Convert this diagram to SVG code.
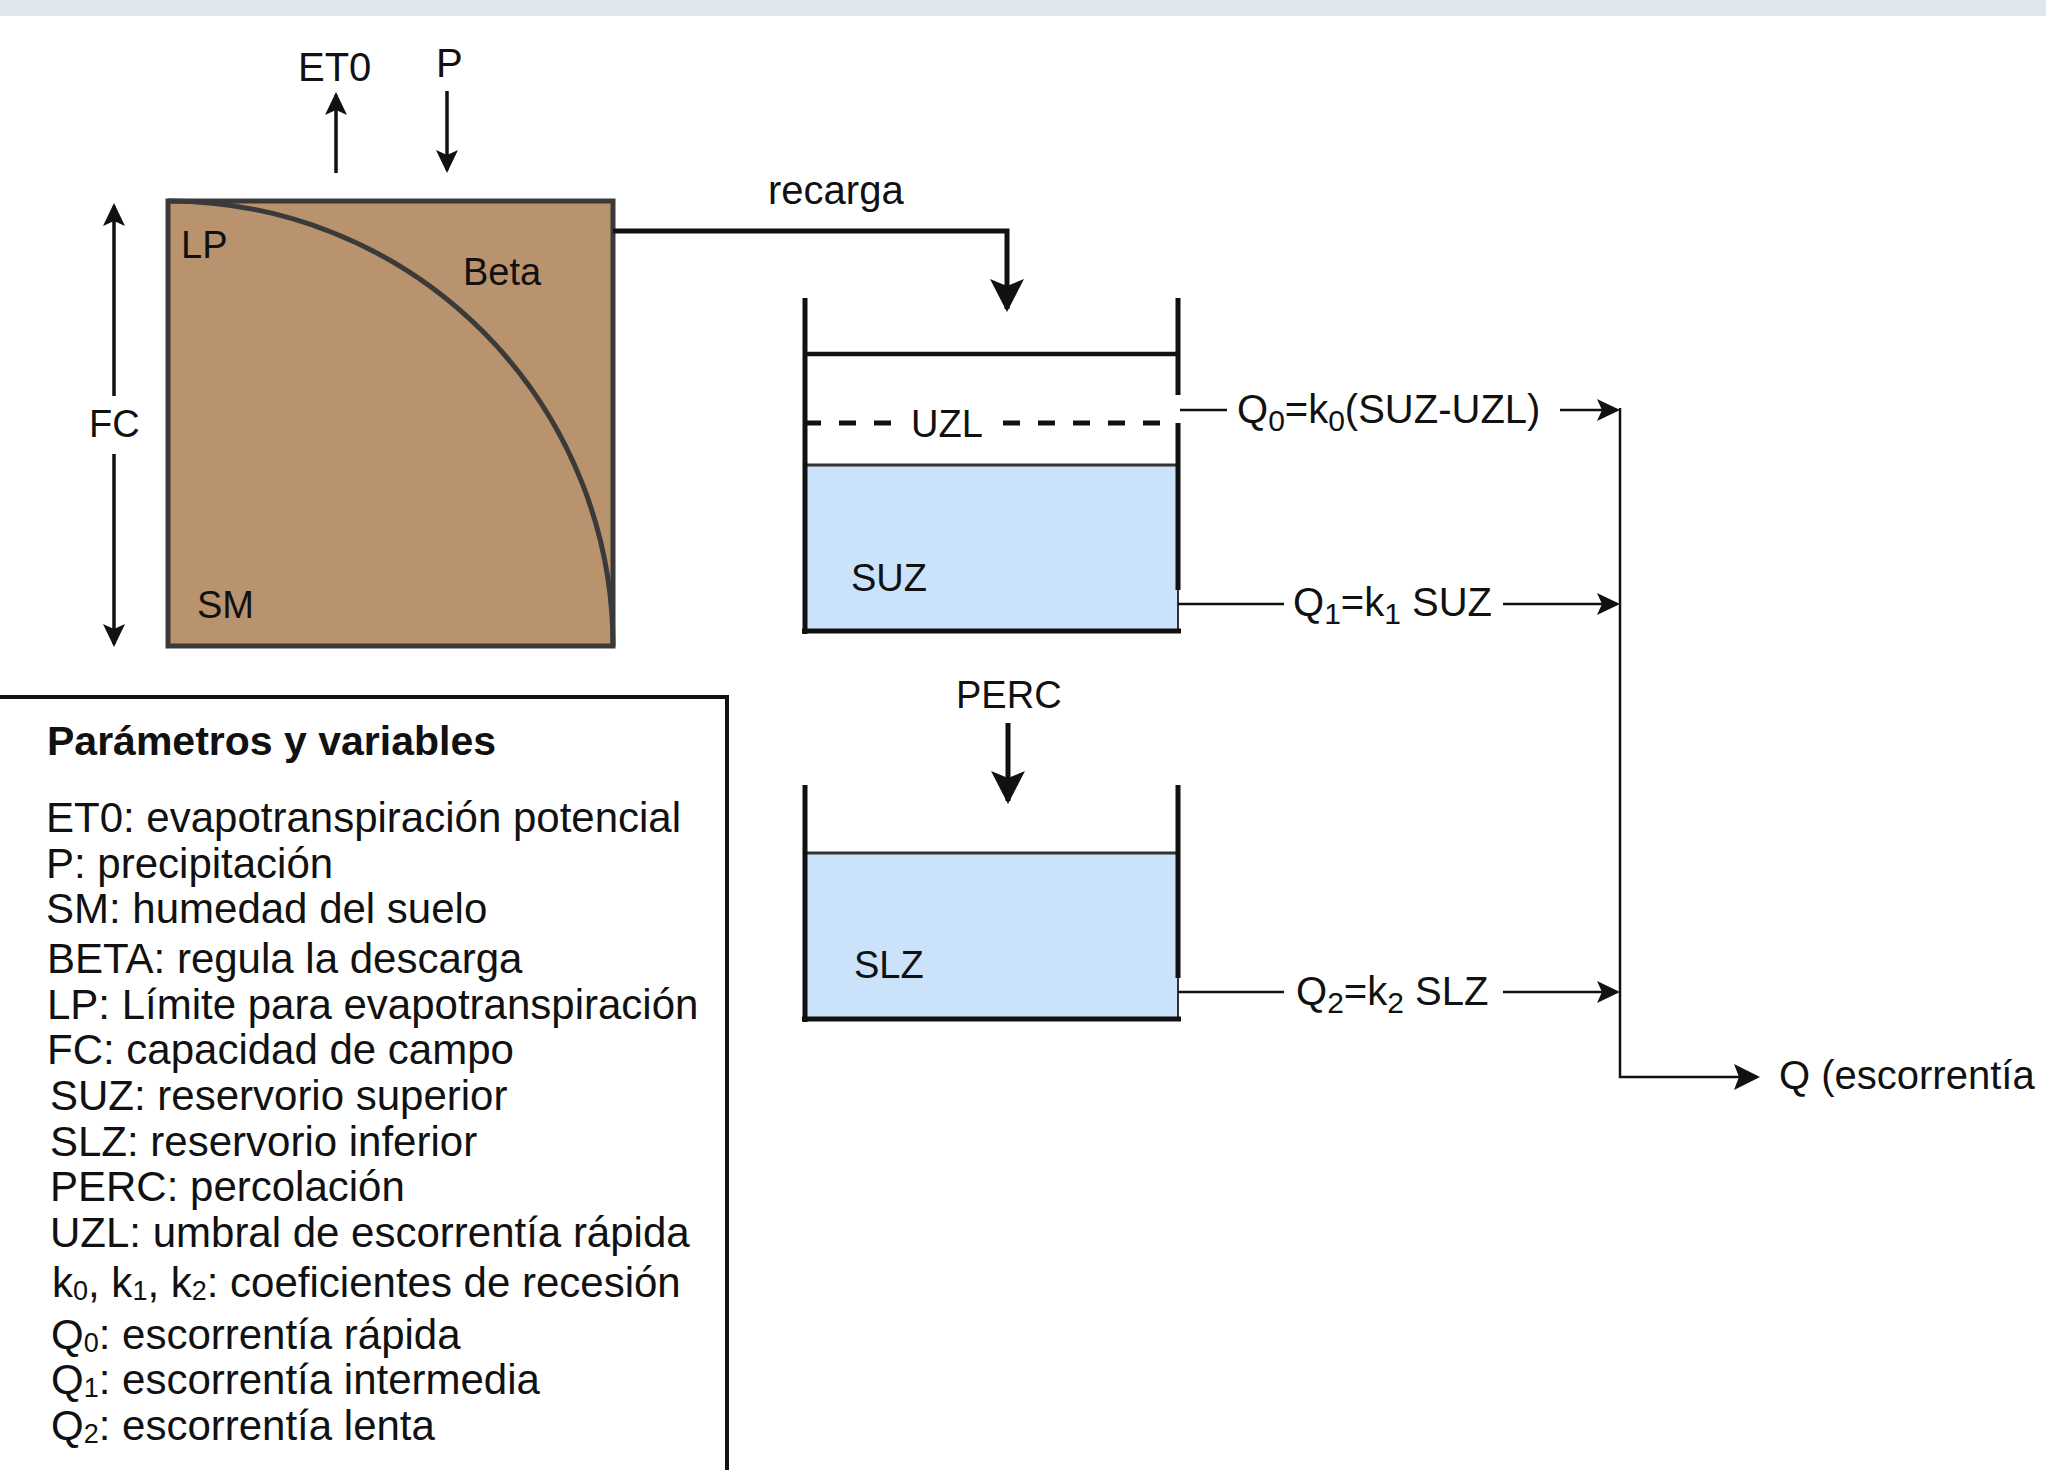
<svg xmlns="http://www.w3.org/2000/svg" width="2046" height="1470" viewBox="0 0 2046 1470">
<style>
text{font-family:"Liberation Sans",Arial,sans-serif;fill:#111}
.lbl{font-size:38px}
.lbl40{font-size:40px}
.leg{font-size:42px}
.legh{font-size:41px;font-weight:bold}
.sub{font-size:30px}
.lsub{font-size:27px}
.thin{fill:none;stroke:#111;stroke-width:2.5}
.mid{fill:none;stroke:#111;stroke-width:3.5}
.thick{fill:none;stroke:#111;stroke-width:5}
.wall{fill:none;stroke:#111;stroke-width:5}
.water{fill:#cbe3fa;stroke:none}
</style>
<defs>
<marker id="ah" markerUnits="userSpaceOnUse" markerWidth="24" markerHeight="22" viewBox="0 0 24 22" refX="20" refY="11" orient="auto-start-reverse"><path d="M0,0 L23,11 L0,22 L5,11 Z" fill="#111"/></marker>
<marker id="ahb" markerUnits="userSpaceOnUse" markerWidth="34" markerHeight="34" viewBox="0 0 34 34" refX="30" refY="17" orient="auto"><path d="M0,0 L33,17 L0,34 L7,17 Z" fill="#111"/></marker>
<marker id="ahq" markerUnits="userSpaceOnUse" markerWidth="27" markerHeight="26" viewBox="0 0 27 26" refX="23" refY="13" orient="auto"><path d="M0,0 L26,13 L0,26 L5,13 Z" fill="#111"/></marker>
</defs>
<rect x="0" y="0" width="2046" height="1470" fill="#ffffff"/>
<rect x="0" y="0" width="2046" height="16" fill="#dfe7ec"/>

<g id="soil">
<rect x="168" y="201" width="445" height="445" fill="#b9936e" stroke="#3a3a3a" stroke-width="5"/>
<path d="M168,201 A445,445 0 0 1 613,646" fill="none" stroke="#3a3a3a" stroke-width="5"/>
<text class="lbl" x="181" y="258">LP</text>
<text class="lbl" x="463" y="285">Beta</text>
<text class="lbl" x="197" y="618">SM</text>
</g>

<g id="suz-tank">
<rect class="water" x="806" y="465" width="372" height="166"/>
<line x1="806" y1="465" x2="1178" y2="465" stroke="#333" stroke-width="3"/>
<line x1="1178" y1="588" x2="1178" y2="631" stroke="#333" stroke-width="2"/>
<line class="wall" x1="805" y1="298" x2="805" y2="634"/>
<line class="wall" x1="1178" y1="298" x2="1178" y2="395"/>
<line class="wall" x1="1178" y1="423" x2="1178" y2="590"/>
<line class="wall" x1="802" y1="631" x2="1181" y2="631"/>
<line x1="806" y1="354" x2="1178" y2="354" stroke="#111" stroke-width="4.5"/>
<path d="M804,423 H892 M1003,423 H1162" fill="none" stroke="#111" stroke-width="5" stroke-dasharray="17 18"/>
<text class="lbl" x="911" y="437">UZL</text>
<text class="lbl" x="851" y="591">SUZ</text>
</g>

<g id="slz-tank">
<rect class="water" x="806" y="853" width="372" height="166"/>
<line x1="806" y1="853" x2="1178" y2="853" stroke="#333" stroke-width="3"/>
<line x1="1178" y1="976" x2="1178" y2="1019" stroke="#333" stroke-width="2"/>
<line class="wall" x1="805" y1="785" x2="805" y2="1022"/>
<line class="wall" x1="1178" y1="785" x2="1178" y2="978"/>
<line class="wall" x1="802" y1="1019" x2="1181" y2="1019"/>
<text class="lbl" x="854" y="978">SLZ</text>
</g>

<g id="connectors">
<line class="mid" x1="336" y1="173" x2="336" y2="95" marker-end="url(#ah)"/>
<line class="mid" x1="447" y1="91" x2="447" y2="170" marker-end="url(#ah)"/>
<line class="mid" x1="114" y1="206" x2="114" y2="396" marker-start="url(#ah)"/>
<line class="mid" x1="114" y1="454" x2="114" y2="644" marker-end="url(#ah)"/>
<path class="thick" d="M613,231 H1007 V309" marker-end="url(#ahb)"/>
<line class="thick" x1="1008" y1="723" x2="1008" y2="801" marker-end="url(#ahb)"/>
<line class="thin" x1="1180" y1="410" x2="1227" y2="410"/>
<line class="thin" x1="1560" y1="410" x2="1617" y2="410" marker-end="url(#ah)"/>
<line class="thin" x1="1178" y1="604" x2="1284" y2="604"/>
<line class="thin" x1="1503" y1="604" x2="1617" y2="604" marker-end="url(#ah)"/>
<line class="thin" x1="1178" y1="992" x2="1284" y2="992"/>
<line class="thin" x1="1503" y1="992" x2="1617" y2="992" marker-end="url(#ah)"/>
<path class="thin" d="M1620,408 V1077 H1757" marker-end="url(#ahq)"/>
</g>

<g id="flow-labels">
<text class="lbl40" x="298" y="81">ET0</text>
<text class="lbl40" x="436" y="77">P</text>
<text class="lbl" x="89" y="437">FC</text>
<text class="lbl40" x="768" y="204">recarga</text>
<text class="lbl" x="956" y="708">PERC</text>
<text class="lbl40" x="1237" y="423">Q<tspan class="sub" dy="8">0</tspan><tspan dy="-8">=k</tspan><tspan class="sub" dy="8">0</tspan><tspan dy="-8">(SUZ-UZL)</tspan></text>
<text class="lbl40" x="1293" y="616">Q<tspan class="sub" dy="8">1</tspan><tspan dy="-8">=k</tspan><tspan class="sub" dy="8">1</tspan><tspan dy="-8"> SUZ</tspan></text>
<text class="lbl40" x="1296" y="1005">Q<tspan class="sub" dy="8">2</tspan><tspan dy="-8">=k</tspan><tspan class="sub" dy="8">2</tspan><tspan dy="-8"> SLZ</tspan></text>
<text class="lbl40" x="1779" y="1089">Q (escorrentía</text>
</g>

<g id="legend">
<path d="M-10,697 H727 V1480" fill="none" stroke="#111" stroke-width="4"/>
<text class="legh" x="47" y="755">Parámetros y variables</text>
<text class="leg" x="46" y="832">ET0: evapotranspiración potencial</text>
<text class="leg" x="46" y="878">P: precipitación</text>
<text class="leg" x="46" y="923">SM: humedad del suelo</text>
<text class="leg" x="47" y="973">BETA: regula la descarga</text>
<text class="leg" x="47" y="1019">LP: Límite para evapotranspiración</text>
<text class="leg" x="47" y="1064">FC: capacidad de campo</text>
<text class="leg" x="50" y="1110">SUZ: reservorio superior</text>
<text class="leg" x="50" y="1156">SLZ: reservorio inferior</text>
<text class="leg" x="50" y="1201">PERC: percolación</text>
<text class="leg" x="50" y="1247">UZL: umbral de escorrentía rápida</text>
<text class="leg" x="52" y="1297">k<tspan class="lsub" dy="3">0</tspan><tspan dy="-3">, k</tspan><tspan class="lsub" dy="3">1</tspan><tspan dy="-3">, k</tspan><tspan class="lsub" dy="3">2</tspan><tspan dy="-3">: coeficientes de recesión</tspan></text>
<text class="leg" x="51" y="1349">Q<tspan class="lsub" dy="3">0</tspan><tspan dy="-3">: escorrentía rápida</tspan></text>
<text class="leg" x="51" y="1394">Q<tspan class="lsub" dy="3">1</tspan><tspan dy="-3">: escorrentía intermedia</tspan></text>
<text class="leg" x="51" y="1440">Q<tspan class="lsub" dy="3">2</tspan><tspan dy="-3">: escorrentía lenta</tspan></text>
</g>
</svg>
